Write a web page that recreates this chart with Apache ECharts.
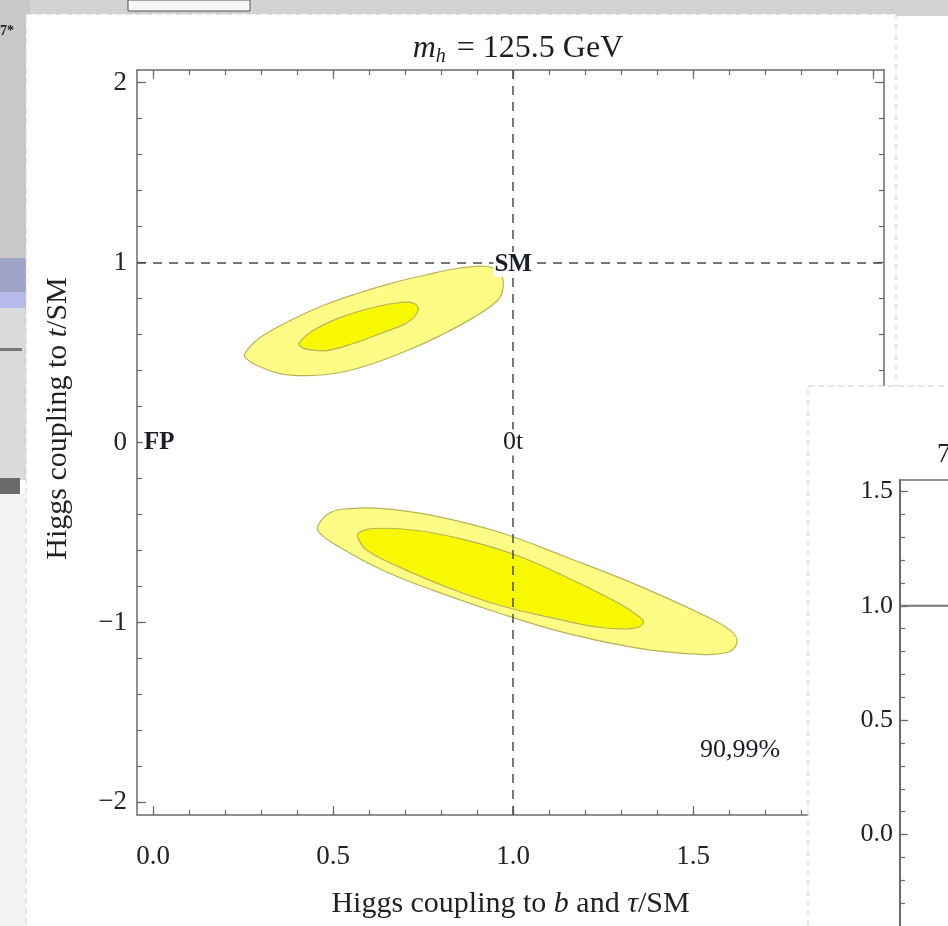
<!DOCTYPE html>
<html>
<head>
<meta charset="utf-8">
<script src="https://cdn.jsdelivr.net/npm/echarts@6/dist/echarts.min.js"></script>
<style>
html,body{margin:0;padding:0;background:#ffffff;}
#chart{width:948px;height:926px;}
</style>
</head>
<body>
<div id="chart"></div>
<script>
// ---------- data ----------
const xMajorTicks = [0, 0.5, 1, 1.5, 2];
const xMinorTicks = [0,0.1,0.2,0.3,0.4,0.5,0.6,0.7,0.8,0.9,1,1.1,1.2,1.3,1.4,1.5,1.6,1.7,1.8,1.9,2];
const yMajorTicks = [-2, -1, 0, 1, 2];
const yMinorTicks = [-2,-1.8,-1.6,-1.4,-1.2,-1,-0.8,-0.6,-0.4,-0.2,0,0.2,0.4,0.6,0.8,1,1.2,1.4,1.6,1.8,2];
const insetMajorTicks = [0, 0.5, 1, 1.5];
const insetMinorTicks = [-0.3,-0.2,-0.1,0,0.1,0.2,0.3,0.4,0.5,0.6,0.7,0.8,0.9,1,1.1,1.2,1.3,1.4,1.5];

// contour outlines: [coupling to b,tau ; coupling to t]
const upperOuter = [[0.256,0.50],[0.297,0.583],[0.381,0.678],[0.472,0.761],[0.567,0.828],[0.658,0.883],[0.75,0.928],[0.844,0.967],[0.928,0.978],[0.964,0.939],[0.972,0.861],[0.956,0.789],[0.889,0.694],[0.797,0.594],[0.706,0.511],[0.611,0.439],[0.519,0.389],[0.428,0.372],[0.353,0.383],[0.289,0.428],[0.256,0.472]];
const upperInner = [[0.406,0.556],[0.444,0.622],[0.519,0.694],[0.611,0.75],[0.686,0.778],[0.725,0.772],[0.736,0.733],[0.706,0.667],[0.631,0.606],[0.556,0.55],[0.483,0.511],[0.428,0.517],[0.406,0.539]];
const lowerOuter = [[0.458,-0.461],[0.492,-0.389],[0.547,-0.367],[0.639,-0.367],[0.778,-0.406],[0.964,-0.5],[1.15,-0.639],[1.333,-0.783],[1.519,-0.95],[1.603,-1.044],[1.622,-1.111],[1.594,-1.167],[1.472,-1.172],[1.333,-1.139],[1.15,-1.061],[0.964,-0.95],[0.778,-0.822],[0.639,-0.711],[0.519,-0.583],[0.464,-0.506]];
const lowerInner = [[0.569,-0.506],[0.611,-0.478],[0.733,-0.489],[0.872,-0.544],[1.011,-0.628],[1.15,-0.75],[1.289,-0.889],[1.353,-0.972],[1.361,-1.006],[1.333,-1.033],[1.242,-1.028],[1.103,-0.972],[0.964,-0.906],[0.825,-0.811],[0.686,-0.694],[0.594,-0.6],[0.572,-0.544]];

const pointLabels = [
  {name:'FP', value:[0, 0]},
  {name:'SM', value:[1, 1]},
  {name:'0t', value:[1, 0]},
  {name:'90,99%', value:[1.63, -1.71]}
];
const boldLabels = ['FP', 'SM'];
const smReference = [1, 1];
const insetReference = 1.0;

// ---------- styles ----------
const SERIF = "'Liberation Serif','DejaVu Serif',serif";
const AX = '#6b6b6b';
const TXT = '#222222';

function contourSeries(points, fill, z) {
  return {
    type: 'custom', xAxisIndex: 0, yAxisIndex: 0, z: z, silent: true, clip: true,
    data: points, encode: {x: 0, y: 1},
    renderItem: function (params, api) {
      if (params.dataIndex !== 0) return;
      const pts = points.map(p => api.coord(p));
      return {type: 'polygon', shape: {points: pts, smooth: 0.4},
              style: {fill: fill, stroke: '#b9b25a', lineWidth: 1.2}};
    }
  };
}

function mainAxis(kind, pos, major, ticks, withLabel, extra) {
  const isX = kind === 'x';
  const a = {
    gridIndex: 0, type: 'value', position: pos,
    min: isX ? -0.045 : -2.07, max: isX ? 2.03 : 2.07,
    axisLine: {show: major, onZero: false, lineStyle: {color: AX, width: 1.5}},
    axisTick: {show: true, inside: true, length: major ? 9 : 5, customValues: ticks,
               lineStyle: {color: AX, width: 1.2}},
    axisLabel: withLabel ? {show: true, customValues: ticks, fontFamily: SERIF, fontSize: 27, color: TXT,
               margin: isX ? 28 : 10,
               formatter: isX ? (v => v.toFixed(1)) : (v => (v < 0 ? '\u2212' : '') + Math.abs(v))}
             : {show: false},
    splitLine: {show: false}
  };
  return Object.assign(a, extra || {});
}

const chart = echarts.init(document.getElementById('chart'), null, {renderer: 'canvas'});

const option = {
  backgroundColor: '#ffffff',
  animation: false,
  title: [
    {text: '{i|m}{s|h} = 125.5 GeV', left: 513, top: 25, textAlign: 'center',
     textStyle: {fontFamily: SERIF, fontSize: 32, fontWeight: 'normal', color: '#1e1e1e',
       rich: {i: {fontFamily: SERIF, fontSize: 32, fontStyle: 'italic', color: '#1e1e1e'},
              s: {fontFamily: SERIF, fontSize: 20, fontStyle: 'italic', color: '#1e1e1e', padding: [17, 3, 0, 0]}}}},
    {text: '7', left: 932, top: 436, textStyle: {fontFamily: SERIF, fontSize: 27, fontWeight: 'normal', color: '#222'}}
  ],
  graphic: [
    // collage background
    {type: 'rect', z: -10, shape: {x: 0, y: 0, width: 948, height: 16}, style: {fill: '#d2d2d2'}},
    {type: 'rect', z: -9, shape: {x: 128, y: 0, width: 122, height: 11}, style: {fill: '#f7f7f7', stroke: '#555', lineWidth: 1}},
    {type: 'rect', z: -10, shape: {x: 0, y: 0, width: 30, height: 258}, style: {fill: '#c8c8c8'}},
    {type: 'rect', z: -10, shape: {x: 0, y: 258, width: 30, height: 34}, style: {fill: '#a0a3c8'}},
    {type: 'rect', z: -10, shape: {x: 0, y: 292, width: 30, height: 16}, style: {fill: '#b6b9ea'}},
    {type: 'rect', z: -10, shape: {x: 0, y: 308, width: 30, height: 172}, style: {fill: '#dadada'}},
    {type: 'rect', z: -9, shape: {x: 0, y: 348, width: 22, height: 3}, style: {fill: '#777'}},
    {type: 'rect', z: -9, shape: {x: 0, y: 478, width: 20, height: 16}, style: {fill: '#6a6a6a'}},
    {type: 'rect', z: -10, shape: {x: 0, y: 494, width: 30, height: 432}, style: {fill: '#f3f3f3'}},
    {type: 'text', z: -8, x: 0, y: 24, style: {text: '7*', fontFamily: SERIF, fontSize: 14, fontWeight: 'bold', fill: '#222'}},
    {type: 'rect', z: -9, shape: {x: 26, y: 14, width: 870, height: 940},
     style: {fill: '#ffffff', stroke: '#cfcfcf', lineWidth: 1, lineDash: [6, 4]}},
    // inset paper on top of main chart
    {type: 'rect', z: 5, shape: {x: 808, y: 386, width: 160, height: 560},
     style: {fill: '#ffffff', stroke: '#cfcfcf', lineWidth: 1, lineDash: [6, 4]}}
  ],
  grid: [
    {left: 137, top: 70, width: 747, height: 745},
    {left: 900, top: 480, width: 300, height: 449}
  ],
  xAxis: [
    mainAxis('x', 'bottom', true, xMajorTicks, true, {
      name: 'Higgs coupling to {i|b} and {i|\u03c4}/SM', nameLocation: 'middle', nameGap: 74,
      nameTextStyle: {fontFamily: SERIF, fontSize: 30, color: TXT,
        rich: {i: {fontFamily: SERIF, fontSize: 30, fontStyle: 'italic', color: TXT}}}}),
    mainAxis('x', 'bottom', false, xMinorTicks, false),
    mainAxis('x', 'top', true, xMajorTicks, false),
    mainAxis('x', 'top', false, xMinorTicks, false),
    {gridIndex: 1, type: 'value', position: 'top', min: 0, max: 1, z: 10,
     axisLine: {show: true, onZero: false, lineStyle: {color: AX, width: 1.5}},
     axisTick: {show: false}, axisLabel: {show: false}, splitLine: {show: false}}
  ],
  yAxis: [
    mainAxis('y', 'left', true, yMajorTicks, true, {
      name: 'Higgs coupling to {i|t}/SM', nameLocation: 'middle', nameGap: 64, nameRotate: 90,
      nameTextStyle: {fontFamily: SERIF, fontSize: 30, color: TXT, padding: [0, 0, 0, 48],
        rich: {i: {fontFamily: SERIF, fontSize: 30, fontStyle: 'italic', color: TXT}}}}),
    mainAxis('y', 'left', false, yMinorTicks, false),
    mainAxis('y', 'right', true, yMajorTicks, false),
    mainAxis('y', 'right', false, yMinorTicks, false),
    {gridIndex: 1, type: 'value', position: 'left', min: -0.4, max: 1.55, z: 10,
     axisLine: {show: true, onZero: false, lineStyle: {color: AX, width: 2}},
     axisTick: {show: true, inside: true, length: 8, customValues: insetMajorTicks, lineStyle: {color: AX, width: 1.2}},
     axisLabel: {show: true, customValues: insetMajorTicks, formatter: v => v.toFixed(1), margin: 7,
                 fontFamily: SERIF, fontSize: 26, color: TXT},
     splitLine: {show: false}},
    {gridIndex: 1, type: 'value', position: 'left', min: -0.4, max: 1.55, z: 10,
     axisLine: {show: false, onZero: false},
     axisTick: {show: true, inside: true, length: 5, customValues: insetMinorTicks, lineStyle: {color: AX, width: 1.2}},
     axisLabel: {show: false}, splitLine: {show: false}}
  ],
  series: [
    contourSeries(upperOuter, '#fdfd86', 2),
    contourSeries(upperInner, '#f8f800', 3),
    contourSeries(lowerOuter, '#fdfd86', 2),
    contourSeries(lowerInner, '#f8f800', 3),
    {
      type: 'scatter', xAxisIndex: 0, yAxisIndex: 0, z: 4, silent: true, data: [],
      markLine: {
        silent: true, symbol: ['none', 'none'], animation: false,
        label: {show: false},
        lineStyle: {type: [9, 7], color: '#4a4a4a', width: 1.5},
        data: [{xAxis: smReference[0]}, {yAxis: smReference[1]}]
      }
    },
    {
      type: 'scatter', xAxisIndex: 0, yAxisIndex: 0, z: 6, silent: true,
      symbolSize: 2, itemStyle: {color: 'rgba(255,255,255,0)', opacity: 1},
      data: pointLabels.map(p => boldLabels.includes(p.name)
        ? Object.assign({}, p, {label: {fontWeight: 'bold', fontSize: 25,
            offset: p.name === 'FP' ? [6, 0] : [0, 2]}}) : p),
      label: {show: true, position: 'inside', formatter: '{b}', fontFamily: SERIF, fontSize: 26,
              color: '#1a1d2a', backgroundColor: '#ffffff', padding: [0, 1], opacity: 1}
    },
    {
      type: 'line', xAxisIndex: 4, yAxisIndex: 4, z: 10, silent: true, symbol: 'none',
      data: [[0, insetReference], [1, insetReference]],
      lineStyle: {color: '#777', width: 2}
    }
  ]
};
chart.setOption(option);
</script>
</body>
</html>
